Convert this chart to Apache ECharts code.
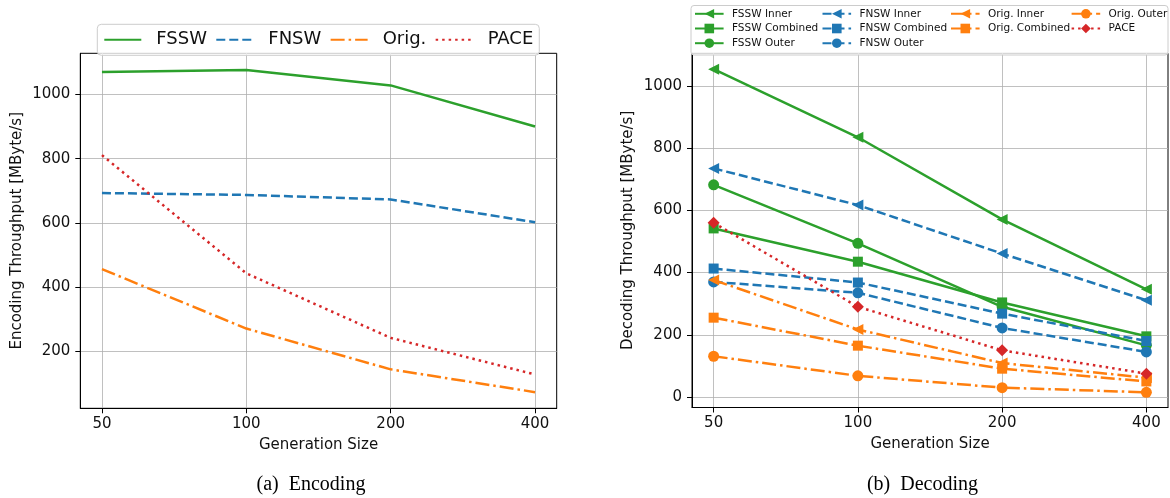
<!DOCTYPE html>
<html>
<head>
<meta charset="utf-8">
<script src="https://cdn.jsdelivr.net/npm/echarts@6/dist/echarts.min.js"></script>
<style>html,body{margin:0;padding:0;background:#fff}#c{width:1170px;height:498px}</style>
</head>
<body>
<div id="c"></div>
<script>
// ---- data ----
const sizes = ['50', '100', '200', '400'];
const encTicks = [200, 400, 600, 800, 1000];
const decTicks = [0, 200, 400, 600, 800, 1000];

const encFSSW = [1070, 1076, 1028, 900];
const encFNSW = [693, 687, 673, 602];
const encOrig = [456, 271, 144, 73];
const encPACE = [811, 443, 242, 128];

const decFSSWInner = [1054, 835, 571, 346];
const decFSSWComb = [542, 435, 304, 195];
const decFSSWOuter = [682, 494, 290, 166];
const decFNSWInner = [735, 617, 461, 311];
const decFNSWComb = [413, 368, 268, 180];
const decFNSWOuter = [370, 335, 222, 145];
const decOrigInner = [376, 217, 109, 62];
const decOrigComb = [255, 165, 91, 50];
const decOrigOuter = [131, 68, 30, 15];
const decPACE = [560, 290, 150, 75];

// ---- helpers ----
const pts = arr => arr.map((v, i) => [i, v]);
const GREEN = '#2ca02c', BLUE = '#1f77b4', ORANGE = '#ff7f0e', RED = '#d62728';
const DASH = [9, 4], DASHDOT = [14, 4, 2.5, 4], DOT = [2.5, 4];
const FONT = 'DejaVu Sans';

function xAxis(gi) {
  return {
    gridIndex: gi, type: 'value', min: -0.15, max: 3.15,
    name: 'Generation Size', nameLocation: 'middle', nameGap: 29,
    nameTextStyle: { fontSize: 15, color: '#111', fontFamily: FONT },
    axisLine: { show: true, onZero: false, lineStyle: { color: '#000', width: 1 } },
    axisTick: { show: true, length: 5, customValues: [0, 1, 2, 3], lineStyle: { color: '#000', width: 1 } },
    axisLabel: { customValues: [0, 1, 2, 3], formatter: v => sizes[Math.round(v)], fontSize: 15, color: '#111', margin: 8, fontFamily: FONT },
    splitLine: { show: true, lineStyle: { color: '#b0b0b0', width: 0.8 } }
  };
}
function yAxis(gi, name, min, max, ticks) {
  return {
    gridIndex: gi, type: 'value', min: min, max: max,
    name: name, nameLocation: 'middle', nameGap: 56,
    nameTextStyle: { fontSize: 15, color: '#111', fontFamily: FONT },
    axisLine: { show: true, onZero: false, lineStyle: { color: '#000', width: 1 } },
    axisTick: { show: true, length: 5, customValues: ticks, lineStyle: { color: '#000', width: 1 } },
    axisLabel: { customValues: ticks, formatter: v => String(Math.round(v)), fontSize: 15, color: '#111', margin: 10, fontFamily: FONT },
    splitLine: { show: true, lineStyle: { color: '#b0b0b0', width: 0.8 } }
  };
}
function encSeries(name, arr, color, type) {
  return {
    type: 'line', name: name, xAxisIndex: 0, yAxisIndex: 0, data: pts(arr),
    symbol: 'none', showSymbol: false, color: color,
    lineStyle: { color: color, width: 2.5, type: type }, emphasis: { disabled: true }, silent: true
  };
}
function decSeries(name, arr, color, type, symbol, size, rot) {
  return {
    type: 'line', name: name, xAxisIndex: 1, yAxisIndex: 1, data: pts(arr),
    symbol: symbol, symbolSize: size, symbolRotate: rot || 0, showSymbol: true, color: color,
    itemStyle: { color: color },
    lineStyle: { color: color, width: 2.5, type: type }, emphasis: { disabled: true }, silent: true
  };
}
function colLegend(left, names) {
  return {
    left: left, top: 8.3, orient: 'vertical', padding: 0,
    itemWidth: 28.6, itemHeight: 12, itemGap: 3.7, selectedMode: false,
    data: names, formatter: n => n.trim(),
    textStyle: { fontSize: 10.5, color: '#111', fontFamily: FONT, padding: [0, 0, 0, 3.4] }
  };
}

const option = {
  animation: false,
  textStyle: { fontFamily: FONT },
  grid: [
    { left: 80.3, top: 53.3, width: 476.4, height: 355, show: true, borderColor: '#000', borderWidth: 1, backgroundColor: 'transparent' },
    { left: 692, top: 53.3, width: 476, height: 354.2, show: true, borderColor: '#000', borderWidth: 1, backgroundColor: 'transparent' }
  ],
  xAxis: [xAxis(0), xAxis(1)],
  yAxis: [
    yAxis(0, 'Encoding Throughput [MByte/s]', 22.7, 1128, encTicks),
    yAxis(1, 'Decoding Throughput [MByte/s]', -33.8, 1105, decTicks)
  ],
  legend: [
    {
      left: 97.3, top: 24.3, orient: 'horizontal',
      data: ['FSSW', 'FNSW', 'Orig.', 'PACE'],
      itemWidth: 37, itemHeight: 14, itemGap: 8.3, padding: [6.5, 6, 6.5, 6],
      backgroundColor: 'rgba(255,255,255,0.8)', borderColor: '#cccccc', borderWidth: 1, borderRadius: 4,
      selectedMode: false, itemStyle: { opacity: 0 },
      textStyle: { fontSize: 18, color: '#111', fontFamily: FONT, padding: [0, 0, 0, 10] }
    },
    colLegend(694, ['FSSW Inner', 'FSSW Combined', 'FSSW Outer']),
    colLegend(821.5, ['FNSW Inner', 'FNSW Combined', 'FNSW Outer']),
    colLegend(950, ['Orig. Inner', 'Orig. Combined']),
    colLegend(1070.6, ['Orig. Outer', 'PACE '])
  ],
  graphic: [
    { type: 'rect', z: 3, shape: { x: 691, y: 5.5, width: 477, height: 49.5, r: 3 },
      style: { fill: 'rgba(255,255,255,0.8)', stroke: '#cccccc', lineWidth: 1 } },
    { type: 'text', x: 311, y: 485, style: { text: '(a)  Encoding', fontFamily: 'Liberation Serif', fontSize: 20, fill: '#000', textAlign: 'center', textVerticalAlign: 'middle' } },
    { type: 'text', x: 922.5, y: 485, style: { text: '(b)  Decoding', fontFamily: 'Liberation Serif', fontSize: 20, fill: '#000', textAlign: 'center', textVerticalAlign: 'middle' } }
  ],
  series: [
    encSeries('FSSW', encFSSW, GREEN, 'solid'),
    encSeries('FNSW', encFNSW, BLUE, DASH),
    encSeries('Orig.', encOrig, ORANGE, DASHDOT),
    encSeries('PACE', encPACE, RED, DOT),

    decSeries('FSSW Inner', decFSSWInner, GREEN, 'solid', 'triangle', 11, 90),
    decSeries('FSSW Combined', decFSSWComb, GREEN, 'solid', 'rect', 10),
    decSeries('FSSW Outer', decFSSWOuter, GREEN, 'solid', 'circle', 11),
    decSeries('FNSW Inner', decFNSWInner, BLUE, DASH, 'triangle', 11, 90),
    decSeries('FNSW Combined', decFNSWComb, BLUE, DASH, 'rect', 10),
    decSeries('FNSW Outer', decFNSWOuter, BLUE, DASH, 'circle', 11),
    decSeries('Orig. Inner', decOrigInner, ORANGE, DASHDOT, 'triangle', 11, 90),
    decSeries('Orig. Combined', decOrigComb, ORANGE, DASHDOT, 'rect', 10),
    decSeries('Orig. Outer', decOrigOuter, ORANGE, DASHDOT, 'circle', 11),
    decSeries('PACE ', decPACE, RED, DOT, 'diamond', 12)
  ]
};
const chart = echarts.init(document.getElementById('c'), null, { renderer: 'canvas' });
chart.setOption(option);
</script>
</body>
</html>
